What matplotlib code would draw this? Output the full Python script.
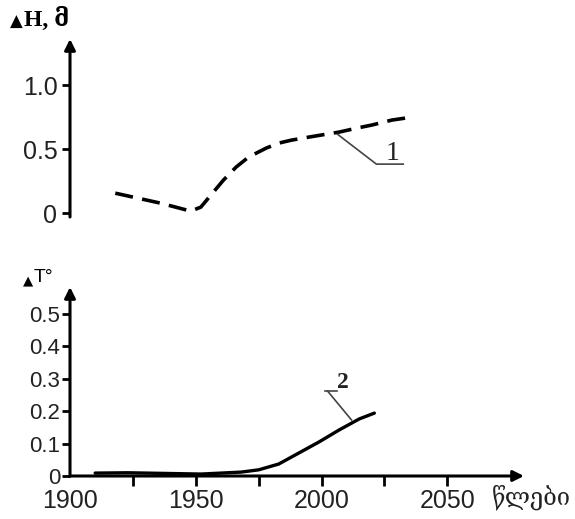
import matplotlib
matplotlib.use("Agg")
import matplotlib.pyplot as plt

# ---- data ----
years_h = [1918, 1936, 1948, 1952, 1957, 1961, 1966, 1971, 1978, 1983, 1988, 1995, 2002, 2007, 2014, 2020, 2028, 2036]
delta_h = [0.156, 0.078, 0.016, 0.047, 0.164, 0.258, 0.359, 0.438, 0.508, 0.547, 0.570, 0.594, 0.617, 0.633, 0.664, 0.688, 0.727, 0.75]

years_t = [1910, 1923, 1952, 1968, 1975, 1983, 1991, 1999, 2007, 2015, 2021]
delta_t = [0.009, 0.010, 0.006, 0.012, 0.019, 0.037, 0.071, 0.105, 0.142, 0.176, 0.194]

h_ticks = [0, 0.5, 1.0]
h_ticklabels = ["0", "0.5", "1.0"]
t_ticks = [0, 0.1, 0.2, 0.3, 0.4, 0.5]
t_ticklabels = ["0", "0.1", "0.2", "0.3", "0.4", "0.5"]
x_ticks = [1900, 1925, 1950, 1975, 2000, 2025, 2050]
x_ticklabels = ["1900", "", "1950", "", "2000", "", "2050"]

W, H = 575, 519
fig = plt.figure(figsize=(W / 100, H / 100), dpi=100)
fig.patch.set_facecolor("white")

def frac(x0, y0, x1, y1):
    return [x0 / W, 1 - y1 / H, (x1 - x0) / W, (y1 - y0) / H]

XMIN, XMAX = 1900, 2080.5
sans = ["Liberation Sans", "DejaVu Sans"]
serif = ["Liberation Serif", "DejaVu Serif", "DejaVu Sans"]

# ---- top panel ----
ax1 = fig.add_axes(frac(70, 39, 524, 217))
ax1.set_xlim(XMIN, XMAX)
ax1.set_ylim(-0.03, 1.36)
for s in ax1.spines.values():
    s.set_visible(False)
ax1.annotate("", xy=(0, 1), xytext=(0, 0), xycoords="axes fraction",
             arrowprops=dict(arrowstyle="-|>", lw=2.2, color="black", mutation_scale=16, shrinkA=0, shrinkB=0))
ax1.plot(years_h, delta_h, color="black", lw=2.6, linestyle=(0, (5.0, 2.6)))
ax1.set_xticks([])
ax1.set_yticks(h_ticks)
ax1.set_yticklabels(h_ticklabels, family=sans, fontsize=18, color="#222222")
ax1.tick_params(axis="y", direction="out", length=6, width=2, pad=3)
ax1.plot([2006.3, 2021.8, 2032.5], [0.617, 0.383, 0.383], color="#444444", lw=1.2)
ax1.text(2028.2, 0.469, "1", family=serif, fontsize=20, ha="center", va="center", color="#222222")

# ---- bottom panel ----
ax2 = fig.add_axes(frac(70, 287, 524, 476))
ax2.set_xlim(XMIN, XMAX)
ax2.set_ylim(0, 0.583)
for s in ax2.spines.values():
    s.set_visible(False)
ax2.annotate("", xy=(0, 1), xytext=(0, 0), xycoords="axes fraction",
             arrowprops=dict(arrowstyle="-|>", lw=2.2, color="black", mutation_scale=16, shrinkA=0, shrinkB=0))
ax2.annotate("", xy=(1, 0), xytext=(0, 0), xycoords="axes fraction",
             arrowprops=dict(arrowstyle="-|>", lw=2.2, color="black", mutation_scale=16, shrinkA=0, shrinkB=0))
ax2.plot(years_t, delta_t, color="black", lw=2.4, solid_capstyle="round", solid_joinstyle="round")
ax2.set_yticks(t_ticks)
ax2.set_yticklabels(t_ticklabels, family=sans, fontsize=16, color="#222222")
ax2.tick_params(axis="y", direction="out", length=6, width=2, pad=1)
ax2.set_xticks(x_ticks)
ax2.set_xticklabels(x_ticklabels, family=sans, fontsize=18, color="#222222")
ax2.tick_params(axis="x", direction="out", length=7, width=2, pad=2)
ax2.xaxis.get_major_ticks()[0].tick1line.set_visible(False)
ax2.plot([2001.2, 2006.3], [0.262, 0.262], color="#444444", lw=1.2)
ax2.plot([2002.4, 2011.9], [0.262, 0.173], color="#444444", lw=1.2)
ax2.text(2008.3, 0.287, "2", family=serif, fontsize=17, fontweight="bold", ha="center", va="center", color="#222222")

# ---- axis titles ----
fig.text(23 / W, 1 - 22 / H, "▲", fontsize=12, family="DejaVu Sans", ha="right", va="center")
fig.text(24 / W, 1 - 19 / H, "H, მ", fontsize=17, fontweight="bold", family=serif, ha="left", va="center")
fig.text(33 / W, 1 - 281 / H, "▲", fontsize=9.5, family="DejaVu Sans", ha="right", va="center")
fig.text(34 / W, 1 - 277 / H, "T°", fontsize=14, family=sans, ha="left", va="center")
fig.text(492 / W, 1 - 497 / H, "წლები", fontsize=17, family=serif, ha="left", va="center", color="#222222")

fig.savefig("out.png", dpi=100, facecolor="white")
